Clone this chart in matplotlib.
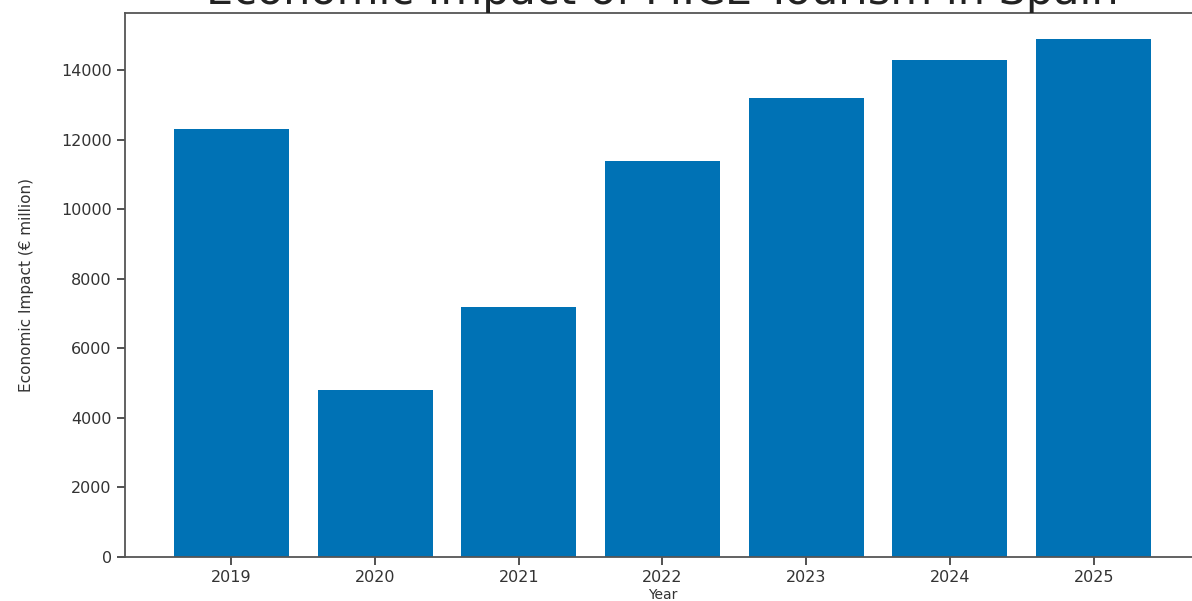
import matplotlib
matplotlib.use("Agg")
import matplotlib.pyplot as plt

years = ["2019", "2020", "2021", "2022", "2023", "2024", "2025"]
impact = [12300, 4800, 7200, 11400, 13200, 14300, 14900]

fig = plt.figure(figsize=(11.92, 6.01), dpi=100)
ax = fig.add_axes([125/1192, 44/601, (1200-125)/1192, (557-13)/601])

ax.bar(years, impact, width=0.8, color="#0072B5")

ax.set_title("Economic Impact of MICE Tourism in Spain", fontsize=31, color="#222222", pad=6)
ax.set_xlabel("Year", fontsize=10, color="#333333", labelpad=2)
ax.set_ylabel("Economic Impact (€ million)", fontsize=11,
              family=["Liberation Sans Narrow", "DejaVu Sans"], color="#333333")
ax.yaxis.set_label_coords(-0.085, 0.5)

ax.set_yticks([0, 2000, 4000, 6000, 8000, 10000, 12000, 14000])
ax.tick_params(axis="both", labelsize=11.5, colors="#333333", length=6, width=1.2)
for s in ax.spines.values():
    s.set_color("#555555")
    s.set_linewidth(1.3)
ax.spines["right"].set_visible(False)

fig.savefig("out.png", dpi=100)
